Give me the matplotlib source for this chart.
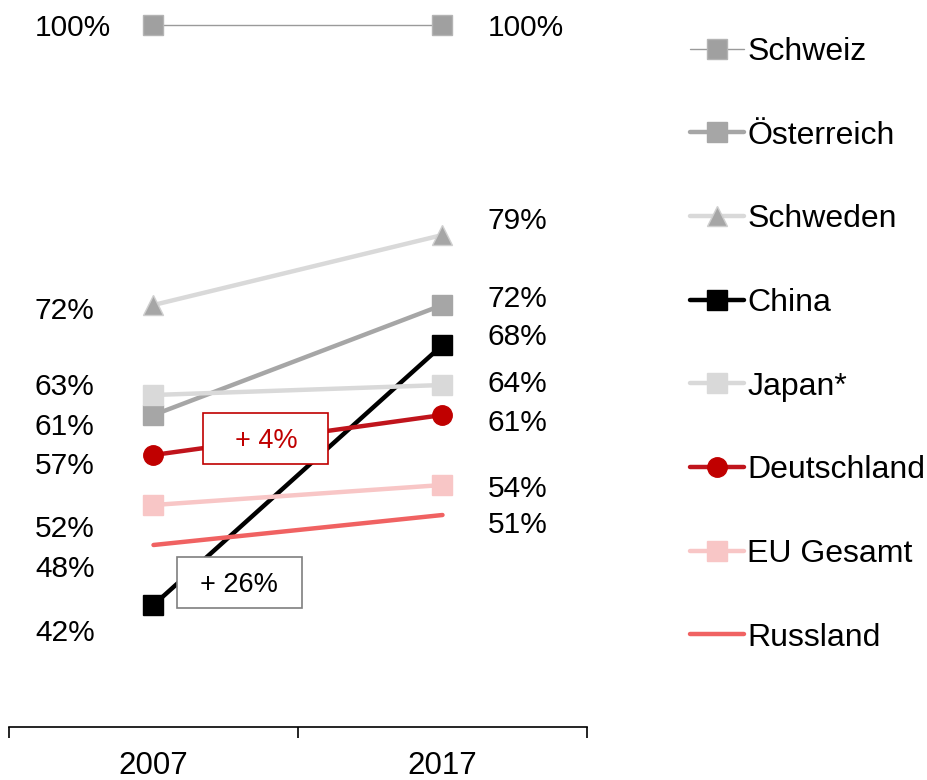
import matplotlib.pyplot as plt
from matplotlib.patches import Rectangle

plt.rcParams['font.family'] = ['Liberation Sans', 'DejaVu Sans']

years = ['2007', '2017']
names = ['Schweiz', 'Österreich', 'Schweden', 'China', 'Japan*',
         'Deutschland', 'EU Gesamt', 'Russland']
schweiz = [100, 100]
oesterreich = [61, 72]
schweden = [72, 79]
china = [42, 68]
japan = [63, 64]
deutschland = [57, 61]
eu = [52, 54]
russland = [48, 51]
series = [schweiz, oesterreich, schweden, china, japan, deutschland, eu, russland]

# style per series: color, marker, marker face, marker edge, line width
styles = [
    ('#9a9a9a', 's', '#a0a0a0', '#b4b4b4', 1.0),
    ('#a6a6a6', 's', '#a6a6a6', '#a6a6a6', 3.2),
    ('#d9d9d9', '^', '#a6a6a6', '#cfcfcf', 3.2),
    ('#000000', 's', '#000000', '#000000', 3.2),
    ('#d9d9d9', 's', '#d9d9d9', '#d9d9d9', 3.2),
    ('#c0141c', 'o', '#c00000', '#c00000', 3.2),
    ('#f8c6c6', 's', '#f8c6c6', '#f8c6c6', 3.2),
    ('#f06262', None, None, None, 3.2),
]

# vertical nudges of the value labels (in %-points) so they don't overlap
left_nudge = [0, -0.9, -0.3, -2.5, 1.1, -0.8, -2.1, -2.1]
right_nudge = [0, 0.9, 1.7, 1.1, 0.4, -0.5, -0.1, -0.7]

fig = plt.figure(figsize=(9.28, 7.8), dpi=100)
ax = fig.add_axes([9/928, 1-727/780, 578/928, 722/780])
ax.set_xlim(0, 2)
ax.set_ylim(29.8, 102)

xs = [0.5, 1.5]
handles = []
for vals, name, (c, m, mfc, mec, lw) in zip(series, names, styles):
    if m is None:
        h, = ax.plot(xs, vals, color=c, lw=lw, label=name, solid_capstyle='round')
    else:
        ms = 15 if m == '^' else 14
        h, = ax.plot(xs, vals, color=c, lw=lw, marker=m, ms=ms, mfc=mfc,
                     mec=mec, mew=1, label=name, solid_capstyle='round')
    handles.append(h)

for vals, ln, rn in zip(series, left_nudge, right_nudge):
    ax.text((35-9)/289, vals[0] + ln, '%d%%' % vals[0], fontsize=21.5,
            ha='left', va='center_baseline')
    ax.text((488-9)/289, vals[1] + rn, '%d%%' % vals[1], fontsize=21.5,
            ha='left', va='center_baseline')

# change boxes
diff_de = deutschland[1] - deutschland[0]
diff_cn = china[1] - china[0]
bw, bh = 125/289, 5.1
for cx, cy, txt, ec, tc in [(0.889, 58.7, '+ %d%%' % diff_de, '#c00000', '#c00000'),
                            (0.796, 44.3, '+ %d%%' % diff_cn, '#7f7f7f', '#000000')]:
    ax.add_patch(Rectangle((cx - bw/2, cy - bh/2), bw, bh, facecolor='white',
                           edgecolor=ec, lw=1.2, zorder=5))
    ax.text(cx, cy, txt, color=tc, fontsize=19.5, ha='center',
            va='center_baseline', zorder=6)

for s in ['top', 'left', 'right']:
    ax.spines[s].set_visible(False)
ax.spines['bottom'].set_linewidth(1.2)
ax.set_yticks([])
ax.set_xticks([0, 1, 2])
ax.set_xticklabels([])
ax.set_xticks(xs, minor=True)
ax.set_xticklabels(years, minor=True, fontsize=22.5)
ax.tick_params(axis='x', which='major', length=8, width=1.2, direction='out',
               bottom=True)
ax.tick_params(axis='x', which='minor', length=0, pad=17)

fig.legend(handles=handles, loc='upper left', bbox_to_anchor=(690/928, 1-37/780),
           frameon=False, fontsize=23, handlelength=1.7, handletextpad=0.1,
           labelspacing=1.68, borderaxespad=0, borderpad=0)

fig.savefig('out.png', dpi=100)
